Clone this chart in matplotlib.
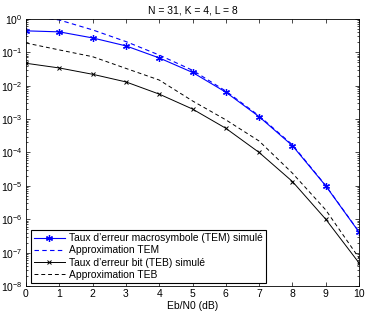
import numpy as np
import matplotlib
matplotlib.use("Agg")
import matplotlib.pyplot as plt

plt.rcParams['font.family'] = ['Liberation Sans', 'DejaVu Sans']

# Eb/N0 (dB)
ebn0 = [0, 1, 2, 3, 4, 5, 6, 7, 8, 9, 10]

# values
tem_sim    = [0.44, 0.41, 0.27, 0.156, 0.068, 0.025, 0.0064, 1.18e-3, 1.6e-4, 1.0e-5, 4.1e-7]
tem_approx = [1.25, 0.93, 0.47, 0.21, 0.083, 0.029, 0.0069, 1.25e-3, 1.7e-4, 1.02e-5, 4.2e-7]
teb_sim    = [0.047, 0.034, 0.022, 0.013, 0.0056, 0.002, 5.3e-4, 1.0e-4, 1.35e-5, 1.0e-6, 4.9e-8]
teb_approx = [0.19, 0.118, 0.074, 0.033, 0.0148, 0.0035, 9.5e-4, 2.2e-4, 2.4e-5, 1.9e-6, 6.9e-8]

labels = ["Taux d\u2019erreur macrosymbole (TEM) simul\u00e9",
          "Approximation TEM",
          "Taux d\u2019erreur bit (TEB) simul\u00e9",
          "Approximation TEB"]

fig = plt.figure(figsize=(3.66, 3.12), dpi=100)
ax = fig.add_axes([0.071, 0.0833, 0.910, 0.856])

star = (6, 2, 0)  # matlab style asterisk
ax.semilogy(ebn0, tem_sim, '-', marker=star, color='#0000ff', lw=0.8, ms=5, mew=0.9, label=labels[0])
ax.semilogy(ebn0, tem_approx, '--', color='#0000ff', lw=0.8, dashes=(4, 3), label=labels[1])
ax.semilogy(ebn0, teb_sim, '-x', color='black', lw=0.7, ms=3.5, mew=0.7, label=labels[2])
ax.semilogy(ebn0, teb_approx, '--', color='black', lw=0.7, dashes=(4, 3), label=labels[3])

ax.set_xlim(0, 10)
ax.set_ylim(1e-8, 1)
ax.set_xticks(range(11))
ax.set_yticks([10.0**k for k in range(-8, 1)])
ax.tick_params(which='both', direction='in', top=True, right=True, labelsize=7.5, width=0.5, pad=2.5)
ax.tick_params(which='major', length=3)
ax.tick_params(which='minor', length=1.5)
for s in ax.spines.values():
    s.set_linewidth(0.6)

ax.set_xlabel("Eb/N0 (dB)", fontsize=7.5, labelpad=1)
ax.set_title("N = 31, K = 4, L = 8", fontsize=7.5, pad=4)

leg = ax.legend(loc='lower left', bbox_to_anchor=(0.015, 0.011), borderaxespad=0,
                fontsize=7.4, fancybox=False, framealpha=1, edgecolor='black',
                handlelength=3.0, handletextpad=0.4, labelspacing=0.22, borderpad=0.3)
leg.get_frame().set_linewidth(0.8)

fig.savefig("out.png", dpi=100)
